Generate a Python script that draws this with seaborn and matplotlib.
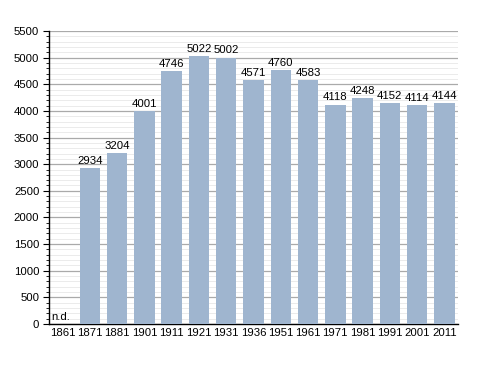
import matplotlib

matplotlib.use("Agg")

import matplotlib.pyplot as plt
import pandas as pd
import seaborn as sns
from matplotlib.ticker import MultipleLocator

YEARS = ["1861", "1871", "1881", "1901", "1911", "1921", "1931", "1936",
         "1951", "1961", "1971", "1981", "1991", "2001", "2011"]
POPULATION = [0, 2934, 3204, 4001, 4746, 5022, 5002, 4571,
              4760, 4583, 4118, 4248, 4152, 4114, 4144]
LABELS = ["n.d.", "2934", "3204", "4001", "4746", "5022", "5002", "4571",
          "4760", "4583", "4118", "4248", "4152", "4114", "4144"]

df = pd.DataFrame({"year": YEARS, "pop": POPULATION})

sns.set_theme(style="white")
plt.rcParams["font.family"] = ["Liberation Sans", "DejaVu Sans"]
plt.rcParams["text.color"] = "black"
plt.rcParams["xtick.color"] = "black"
plt.rcParams["ytick.color"] = "black"

fig = plt.figure(figsize=(4.88, 3.73), dpi=100)
ax = fig.add_axes([0.1004, 0.1314, 0.8381, 0.7855])

sns.barplot(data=df, x="year", y="pop", color="#9fb5cf", saturation=1,
            width=0.75, linewidth=0, edgecolor="none", ax=ax, zorder=3)

ax.set_ylim(0, 5500)
ax.set_xlim(-0.5, len(YEARS) - 0.5)
ax.yaxis.set_major_locator(MultipleLocator(500))
ax.yaxis.set_minor_locator(MultipleLocator(100))
ax.grid(which="major", axis="y", color="#aaaaaa", lw=0.9, zorder=0)
ax.grid(which="minor", axis="y", color="#ebebeb", lw=0.7, zorder=0)
ax.set_axisbelow(True)

for s in ["top", "right"]:
    ax.spines[s].set_visible(False)
for s in ["left", "bottom"]:
    ax.spines[s].set_color("black")
    ax.spines[s].set_linewidth(1.0)

ax.tick_params(axis="y", which="major", direction="out", length=4, width=0.8,
               color="black", labelcolor="black", labelsize=8.2, pad=3, left=True)
ax.tick_params(axis="y", which="minor", direction="out", length=2, width=0.6,
               color="black", left=True)
ax.tick_params(axis="x", length=0, labelsize=8.2, labelcolor="black", pad=3)
ax.set_xlabel("")
ax.set_ylabel("")

for i, (v, lab) in enumerate(zip(POPULATION, LABELS)):
    if v == 0:
        ax.text(i - 0.4, 40, lab, ha="left", va="bottom", fontsize=8.2,
                color="black")
    else:
        ax.text(i, v + 40, lab, ha="center", va="bottom", fontsize=8.2,
                color="black")

fig.savefig("out.png", dpi=100)
